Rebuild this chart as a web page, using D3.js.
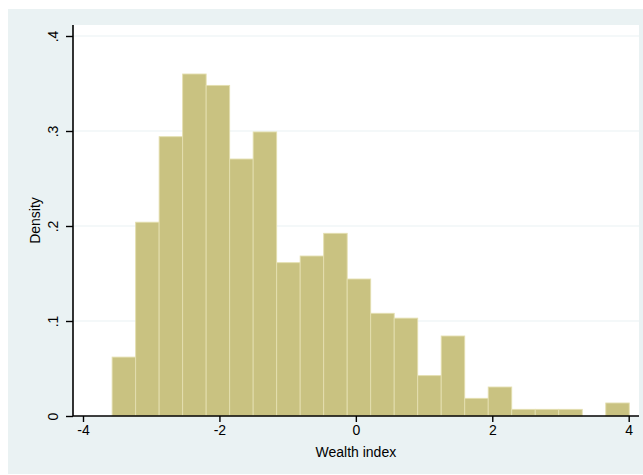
<!DOCTYPE html>
<html>
<head>
<meta charset="utf-8">
<script src="https://cdn.jsdelivr.net/npm/d3@7"></script>
<style>
  body { margin: 0; background: #fff; }
  svg { display: block; font-family: "Liberation Sans", Arial, Helvetica, sans-serif; }
</style>
</head>
<body>
<div id="chart"></div>
<script>
// histogram bins of the wealth index (density scale)
const binStart = -3.573;
const binWidth = 0.3446;
const densities = [0.062, 0.204, 0.294, 0.360, 0.348, 0.2705, 0.299, 0.1614, 0.1684, 0.1923,
                   0.1442, 0.1081, 0.103, 0.0425, 0.0842, 0.0186, 0.0305, 0.007, 0.007, 0.007,
                   0, 0.0137];
const xTicks = [-4, -2, 0, 2, 4];
const xTickLabels = ["-4", "-2", "0", "2", "4"];
const yTicks = [0, 0.1, 0.2, 0.3, 0.4];
const yTickLabels = ["0", ".1", ".2", ".3", ".4"];
const xTitle = "Wealth index";
const yTitle = "Density";

const W = 643, H = 475;
const plot = {left: 73, right: 639, top: 25, bottom: 416};

const svg = d3.select("#chart").append("svg")
    .attr("width", W)
    .attr("height", H);

// outer graph region
svg.append("rect")
    .attr("x", 8).attr("y", 9)
    .attr("width", W - 8).attr("height", 465)
    .attr("fill", "#eaf2f3");

// plot region
svg.append("rect")
    .attr("x", plot.left).attr("y", plot.top)
    .attr("width", plot.right - plot.left).attr("height", plot.bottom - plot.top)
    .attr("fill", "#ffffff");

const x = d3.scaleLinear().domain([-4, 4]).range([83, 628.7]);
const y = d3.scaleLinear().domain([0, 0.4]).range([plot.bottom, 36]);

// gridlines
svg.append("g")
    .selectAll("line")
    .data(yTicks.slice(1))
    .join("line")
    .attr("x1", plot.left).attr("x2", plot.right)
    .attr("y1", d => y(d)).attr("y2", d => y(d))
    .attr("stroke", "#eaf2f3")
    .attr("stroke-width", 1.2);

// bars
const bins = densities.map((d, i) => ({x0: binStart + i * binWidth, x1: binStart + (i + 1) * binWidth, v: d}));
svg.append("g")
    .selectAll("rect")
    .data(bins.filter(d => d.v > 0))
    .join("rect")
    .attr("x", d => x(d.x0))
    .attr("width", d => x(d.x1) - x(d.x0))
    .attr("y", d => y(d.v))
    .attr("height", d => y(0) - y(d.v))
    .attr("fill", "#c9c281")
    .attr("stroke", "#e4dfb0")
    .attr("stroke-width", 0.9);

// y axis
const yAxis = svg.append("g")
    .attr("transform", `translate(${plot.left},0)`)
    .call(d3.axisLeft(y).tickValues(yTicks).tickSize(7).tickFormat((d, i) => yTickLabels[i]));
yAxis.select(".domain").attr("d", `M0,${plot.top}V${plot.bottom}`).attr("stroke", "#000").attr("stroke-width", 1.6);
yAxis.selectAll(".tick line").attr("stroke", "#000").attr("stroke-width", 1.4);
yAxis.selectAll(".tick text")
    .attr("font-size", 14)
    .attr("fill", "#000")
    .attr("text-anchor", "middle")
    .attr("transform", "translate(-20,0) rotate(-90)")
    .attr("x", 0)
    .attr("dy", "0.35em");

// x axis
const xAxis = svg.append("g")
    .attr("transform", `translate(0,${plot.bottom})`)
    .call(d3.axisBottom(x).tickValues(xTicks).tickSize(6).tickFormat((d, i) => xTickLabels[i]));
xAxis.select(".domain").attr("d", `M${plot.left},0H${plot.right}`).attr("stroke", "#000").attr("stroke-width", 1.6);
xAxis.selectAll(".tick line").attr("stroke", "#000").attr("stroke-width", 1.4);
xAxis.selectAll(".tick text")
    .attr("font-size", 14)
    .attr("fill", "#000")
    .attr("y", 9)
    .attr("dy", "0.71em");

// titles
svg.append("text")
    .attr("x", x(0))
    .attr("y", 457)
    .attr("text-anchor", "middle")
    .attr("font-size", 14)
    .text(xTitle);

svg.append("text")
    .attr("transform", `translate(40,${(plot.top + plot.bottom) / 2}) rotate(-90)`)
    .attr("text-anchor", "middle")
    .attr("font-size", 14)
    .text(yTitle);
</script>
</body>
</html>
